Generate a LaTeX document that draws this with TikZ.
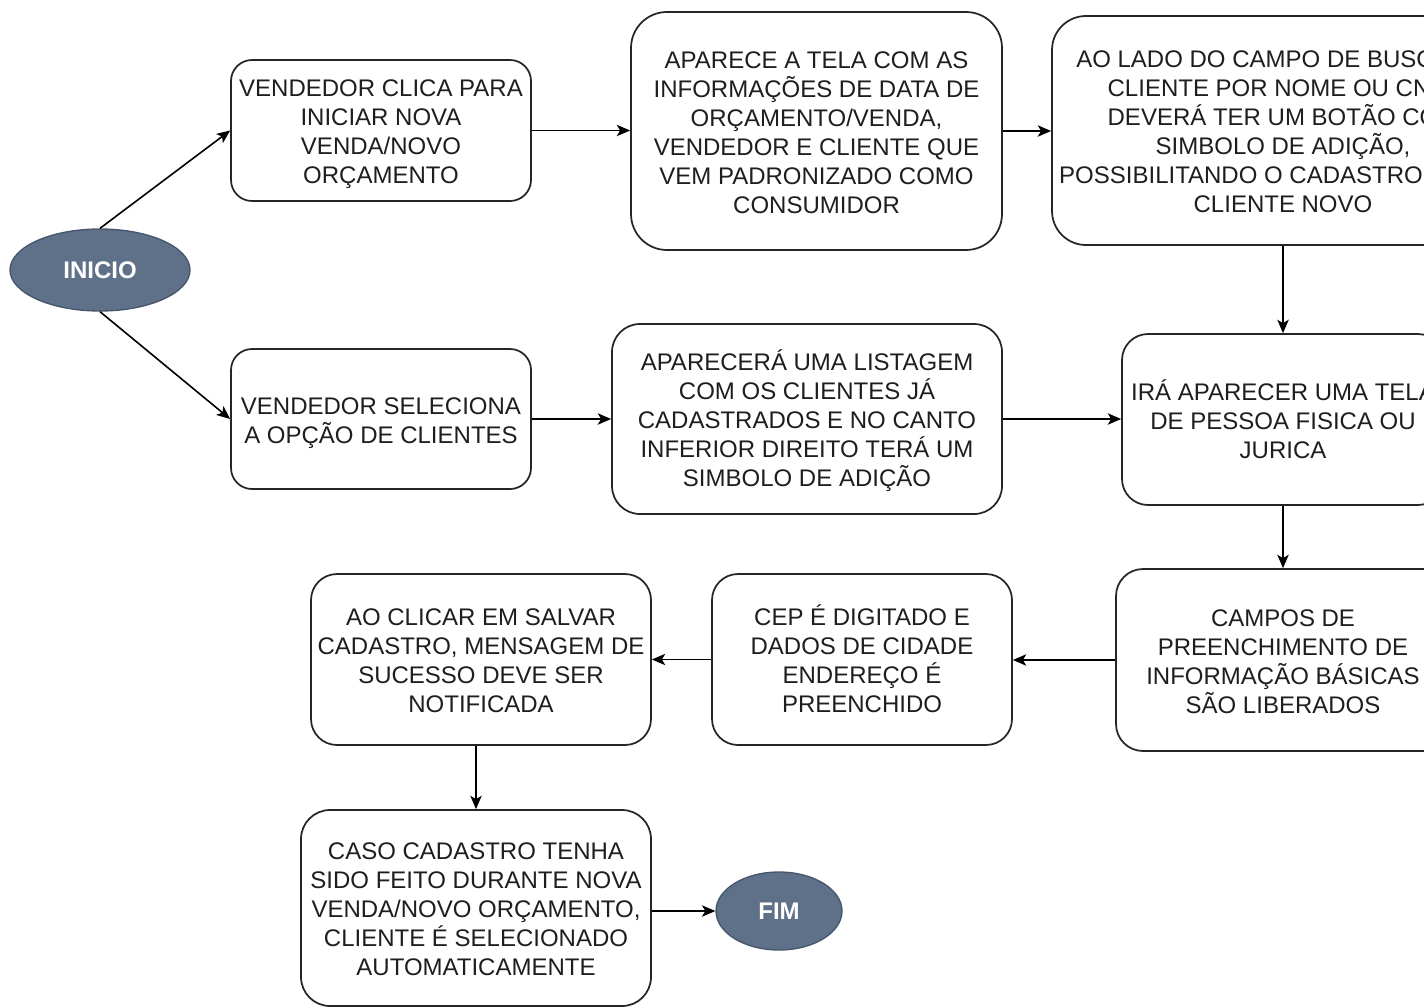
\documentclass[tikz,border=0pt]{standalone}
\usepackage{fontspec}
\setmainfont{Liberation Sans}
\usetikzlibrary{shapes.geometric,arrows.meta}
\definecolor{txt}{HTML}{1E1E1E}
\definecolor{termfill}{HTML}{5F7189}
\definecolor{termline}{HTML}{46556B}
\newcommand\topstrutx{\rule{0pt}{19.4pt}}
\newcommand\botstrutx{\rule[-4.5pt]{0pt}{4.5pt}}
\begin{document}
\begin{tikzpicture}[x=0.75pt,y=-0.75pt,
  proc/.style={draw=black!85, line width=1.3pt, fill=white, align=center,
    font=\fontsize{18}{21.75}\selectfont, text=txt, inner sep=0pt},
  term/.style={ellipse, draw=termline, fill=termfill, line width=1pt, text=white,
    font=\fontsize{18}{21.75}\selectfont\bfseries, inner sep=0pt},
  flow/.style={draw=black, line width=1.2pt, -{Stealth[length=10pt,width=8.5pt,inset=2.5pt]}}]
\useasboundingbox (0,0) rectangle (1424,1007);
\clip (0,0) rectangle (1424,1007);
\fill[white] (0,0) rectangle (1424,1007);

\node[term, minimum width=135pt, minimum height=61.5pt] (inicio) at (100,270) {INICIO};

\node[proc, minimum width=225pt, minimum height=105.75pt, rounded corners=15.75pt] (A) at (381,130.5)
  {\topstrutx VENDEDOR CLICA PARA\\INICIAR NOVA\\VENDA/NOVO\\ORÇAMENTO\botstrutx};
\node[proc, minimum width=278.25pt, minimum height=178.5pt, rounded corners=27pt] (B) at (816.5,131)
  {\topstrutx APARECE A TELA COM AS\\INFORMAÇÕES DE DATA DE\\ORÇAMENTO/VENDA,\\VENDEDOR E CLIENTE QUE\\VEM PADRONIZADO COMO\\CONSUMIDOR\botstrutx};
\node[proc, minimum width=346.5pt, minimum height=171.75pt, rounded corners=25.5pt] (C) at (1283,130.5)
  {\topstrutx AO LADO DO CAMPO DE BUSCA DE\\CLIENTE POR NOME OU CNPJ\\DEVERÁ TER UM BOTÃO COM\\SIMBOLO DE ADIÇÃO,\\POSSIBILITANDO O CADASTRO DE UM\\CLIENTE NOVO\botstrutx};
\node[proc, minimum width=241.5pt, minimum height=128.25pt, rounded corners=19.5pt] (D) at (1283,419.5)
  {\topstrutx IRÁ APARECER UMA TELA\\DE PESSOA FISICA OU\\JURICA\botstrutx};
\node[proc, minimum width=250.5pt, minimum height=136.5pt, rounded corners=20.25pt] (E) at (1283,660)
  {\topstrutx CAMPOS DE\\PREENCHIMENTO DE\\INFORMAÇÃO BÁSICAS\\SÃO LIBERADOS\botstrutx};
\node[proc, minimum width=225pt, minimum height=105pt, rounded corners=15.75pt] (G) at (381,419)
  {\topstrutx VENDEDOR SELECIONA\\A OPÇÃO DE CLIENTES\botstrutx};
\node[proc, minimum width=292.5pt, minimum height=142.5pt, rounded corners=21pt] (F) at (807,419)
  {\topstrutx APARECERÁ UMA LISTAGEM\\COM OS CLIENTES JÁ\\CADASTRADOS E NO CANTO\\INFERIOR DIREITO TERÁ UM\\SIMBOLO DE ADIÇÃO\botstrutx};
\node[proc, minimum width=225pt, minimum height=128.25pt, rounded corners=19.5pt] (H) at (862,659.5)
  {\topstrutx CEP É DIGITADO E\\DADOS DE CIDADE\\ENDEREÇO É\\PREENCHIDO\botstrutx};
\node[proc, minimum width=255pt, minimum height=128.25pt, rounded corners=19.5pt] (I) at (481,659.5)
  {\topstrutx AO CLICAR EM SALVAR\\CADASTRO, MENSAGEM DE\\SUCESSO DEVE SER\\NOTIFICADA\botstrutx};
\node[proc, minimum width=262.5pt, minimum height=147pt, rounded corners=21.75pt] (J) at (476,908)
  {\topstrutx CASO CADASTRO TENHA\\SIDO FEITO DURANTE NOVA\\VENDA/NOVO ORÇAMENTO,\\CLIENTE É SELECIONADO\\AUTOMATICAMENTE\botstrutx};
\node[term, minimum width=94.5pt, minimum height=58.5pt] (fim) at (779,911) {FIM};

\draw[flow] (inicio.north) -- (A.west);
\draw[flow] (inicio.south) -- (G.west);
\draw[flow] (A.east) -- (A.east -| B.west);
\draw[flow] (B.east) -- (B.east -| C.west);
\draw[flow] (C.south) -- (D.north);
\draw[flow] (G.east) -- (G.east -| F.west);
\draw[flow] (F.east) -- (F.east -| D.west);
\draw[flow] (D.south) -- (E.north);
\draw[flow] (E.west) -- (E.west -| H.east);
\draw[flow] (H.west) -- (H.west -| I.east);
\draw[flow] (J.north |- I.south) -- (J.north);
\draw[flow] (J.east |- fim.west) -- (fim.west);
\end{tikzpicture}
\end{document}
